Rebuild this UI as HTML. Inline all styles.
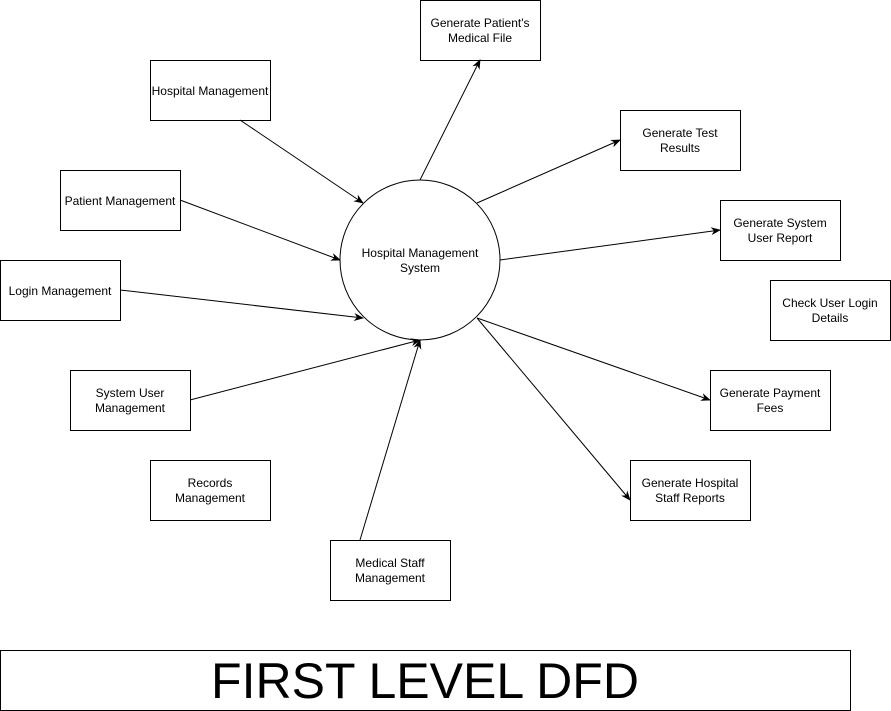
<!DOCTYPE html>
<html><head><meta charset="utf-8"><style>
html,body{margin:0;padding:0;background:#fff;}
svg{display:block;}
text{font-family:"Liberation Sans",Arial,sans-serif;font-size:12px;fill:#000;}
</style></head><body>
<svg width="891" height="711" viewBox="0 0 891 711" xmlns="http://www.w3.org/2000/svg">
<defs>
<marker id="a" viewBox="0 0 10 10" refX="9" refY="5" markerWidth="10" markerHeight="10" orient="auto" markerUnits="userSpaceOnUse">
<path d="M0,1 L10,5 L0,9 L3,5 z" fill="#000"/>
</marker>
</defs>
<g fill="#fff" stroke="#000" stroke-width="1">
<rect x="420.5" y="0.5" width="120" height="60"/>
<rect x="150.5" y="60.5" width="120" height="60"/>
<rect x="620.5" y="110.5" width="120" height="60"/>
<rect x="60.5" y="170.5" width="120" height="60"/>
<rect x="720.5" y="200.5" width="120" height="60"/>
<rect x="0.5" y="260.5" width="120" height="60"/>
<rect x="770.5" y="280.5" width="120" height="60"/>
<rect x="70.5" y="370.5" width="120" height="60"/>
<rect x="710.5" y="370.5" width="120" height="60"/>
<rect x="150.5" y="460.5" width="120" height="60"/>
<rect x="630.5" y="460.5" width="120" height="60"/>
<rect x="330.5" y="540.5" width="120" height="60"/>
<circle cx="420" cy="260" r="80"/>
<rect x="0.5" y="650.5" width="850" height="60"/>
</g>
<g stroke="#000" stroke-width="1" marker-end="url(#a)">
<line x1="240" y1="120" x2="363" y2="203"/>
<line x1="180" y1="200" x2="340" y2="260"/>
<line x1="120" y1="290" x2="363" y2="318"/>
<line x1="190" y1="400" x2="420" y2="340"/>
<line x1="360" y1="540" x2="420" y2="340"/>
<line x1="420" y1="180" x2="480" y2="60"/>
<line x1="477" y1="203" x2="620" y2="140"/>
<line x1="500" y1="260" x2="720" y2="230"/>
<line x1="477" y1="318" x2="710" y2="400"/>
<line x1="477" y1="318" x2="630" y2="500"/>
</g>
<g text-anchor="middle">
<text x="480" y="27">Generate Patient's</text><text x="480" y="42">Medical File</text>
<text x="210" y="95">Hospital Management</text>
<text x="680" y="137">Generate Test</text><text x="680" y="152">Results</text>
<text x="120" y="205">Patient Management</text>
<text x="780" y="227">Generate System</text><text x="780" y="242">User Report</text>
<text x="60" y="295">Login Management</text>
<text x="830" y="307">Check User Login</text><text x="830" y="322">Details</text>
<text x="130" y="397">System User</text><text x="130" y="412">Management</text>
<text x="770" y="397">Generate Payment</text><text x="770" y="412">Fees</text>
<text x="210" y="487">Records</text><text x="210" y="502">Management</text>
<text x="690" y="487">Generate Hospital</text><text x="690" y="502">Staff Reports</text>
<text x="390" y="567">Medical Staff</text><text x="390" y="582">Management</text>
<text x="420" y="257">Hospital Management</text><text x="420" y="272">System</text>
<text x="425" y="698" style="font-size:50px">FIRST LEVEL DFD</text>
</g>
</svg>
</body></html>
